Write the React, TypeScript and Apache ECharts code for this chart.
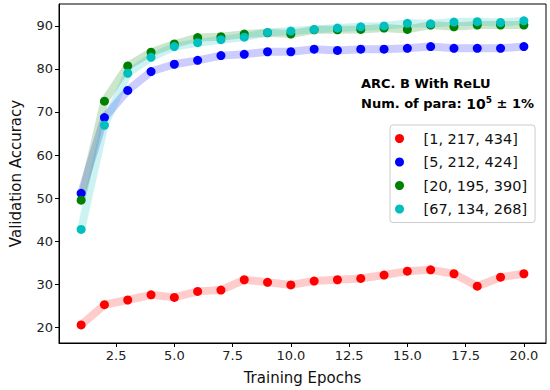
import React, { useEffect, useRef } from "react";
import * as echarts from "echarts";

const epochs = [1, 2, 3, 4, 5, 6, 7, 8, 9, 10, 11, 12, 13, 14, 15, 16, 17, 18, 19, 20];
const seriesNames = ["[1, 217, 434]", "[5, 212, 424]", "[20, 195, 390]", "[67, 134, 268]"];
const colors = ["#ff0000", "#0000ff", "#008000", "#00bfbf"];
const redVals = [20.5, 25.2, 26.3, 27.5, 26.9, 28.3, 28.6, 31.0, 30.4, 29.8, 30.7, 31.0, 31.3, 32.1, 33.0, 33.3, 32.4, 29.5, 31.6, 32.4];
const blueVals = [51.1, 68.7, 75.0, 79.4, 81.1, 82.0, 83.1, 83.4, 84.0, 84.0, 84.6, 84.3, 84.6, 84.6, 84.8, 85.2, 84.8, 84.8, 84.8, 85.2];
const greenVals = [49.5, 72.5, 80.7, 83.9, 85.8, 87.3, 87.5, 88.1, 88.4, 88.1, 89.1, 89.1, 89.2, 89.5, 89.2, 90.2, 89.8, 90.2, 90.2, 90.2];
const cyanVals = [42.7, 66.9, 79.0, 82.7, 85.2, 86.1, 86.8, 87.4, 88.5, 88.8, 89.2, 89.5, 89.8, 90.0, 90.6, 90.5, 90.9, 91.0, 90.8, 91.2];
const xTicks = [2.5, 5.0, 7.5, 10.0, 12.5, 15.0, 17.5, 20.0];
const yTicks = [20, 30, 40, 50, 60, 70, 80, 90];

const FONT = "DejaVu Sans";

export default function App() {
  const ref = useRef<HTMLDivElement>(null);
  useEffect(() => {
    if (!ref.current) return;
    const chart = echarts.init(ref.current, null, { renderer: "svg" });
    const all = [redVals, blueVals, greenVals, cyanVals];
    const series: any[] = [];
    all.forEach((vals, i) => {
      series.push({
        name: seriesNames[i] + " band",
        type: "line",
        data: epochs.map((e, j) => [e, vals[j]]),
        showSymbol: false,
        symbol: "none",
        lineStyle: { color: colors[i], width: 8, opacity: 0.2, join: "round", cap: "round" },
        silent: true,
        z: 1,
      });
    });
    all.forEach((vals, i) => {
      series.push({
        name: seriesNames[i],
        type: "scatter",
        data: epochs.map((e, j) => [e, vals[j]]),
        symbol: "circle",
        symbolSize: 9,
        itemStyle: { color: colors[i], opacity: 1 },
        z: 3 + i,
      });
    });
    chart.setOption({
      animation: false,
      backgroundColor: "#ffffff",
      grid: {
        left: 59,
        right: 4,
        top: 4,
        bottom: 46,
        show: true,
        borderColor: "#000",
        borderWidth: 1,
        backgroundColor: "transparent",
      },
      xAxis: {
        type: "value",
        min: 0.05,
        max: 20.95,
        name: "Training Epochs",
        nameLocation: "middle",
        nameGap: 27,
        nameTextStyle: { fontFamily: FONT, fontSize: 15, color: "#111" },
        splitLine: { show: false },
        axisLine: { show: true, onZero: false, lineStyle: { color: "#000" } },
        axisTick: { show: true, customValues: xTicks, length: 4, lineStyle: { color: "#000" } },
        axisLabel: {
          customValues: xTicks,
          formatter: (v: number) => v.toFixed(1),
          fontFamily: FONT,
          fontSize: 13,
          color: "#222",
          margin: 6,
        },
      },
      yAxis: {
        type: "value",
        min: 16.3,
        max: 95.1,
        name: "Validation Accuracy",
        nameLocation: "middle",
        nameGap: 36,
        nameTextStyle: { fontFamily: FONT, fontSize: 15, color: "#111" },
        splitLine: { show: false },
        axisLine: { show: true, onZero: false, lineStyle: { color: "#000" } },
        axisTick: { show: true, customValues: yTicks, length: 4, lineStyle: { color: "#000" } },
        axisLabel: {
          customValues: yTicks,
          fontFamily: FONT,
          fontSize: 13,
          color: "#222",
          margin: 6,
        },
      },
      legend: {
        data: seriesNames.map((n) => ({ name: n, icon: "circle" })),
        orient: "vertical",
        left: 390,
        top: 125,
        padding: [6, 8, 6, 5],
        itemWidth: 30,
        itemHeight: 9,
        itemGap: 8.5,
        borderColor: "#cccccc",
        borderWidth: 1,
        borderRadius: 3,
        backgroundColor: "rgba(255,255,255,0.8)",
        textStyle: { fontFamily: FONT, fontSize: 14.5, color: "#111", padding: [0, 0, 0, 4] },
      },
      graphic: [
        {
          type: "text",
          left: 361,
          top: 77,
          style: {
            text: "ARC. B With ReLU",
            font: `bold 13px "${FONT}"`,
            fill: "#000",
          },
        },
        {
          type: "text",
          left: 361,
          top: 95,
          style: {
            text: "{b|Num. of para: }{big|10}{sup|5}{b| ± 1%}",
            rich: {
              b: { fontFamily: FONT, fontWeight: "bold", fontSize: 13, color: "#000" },
              big: { fontFamily: FONT, fontWeight: "bold", fontSize: 14, color: "#000" },
              sup: { fontFamily: FONT, fontWeight: "bold", fontSize: 9, color: "#000", verticalAlign: "top", padding: [0, 0, 8, 0] },
            },
          },
        },
      ],
      series,
    });
    return () => chart.dispose();
  }, []);
  return (
    <div
      ref={ref}
      style={{ position: "fixed", left: 0, top: 0, width: 550, height: 390 }}
    />
  );
}
